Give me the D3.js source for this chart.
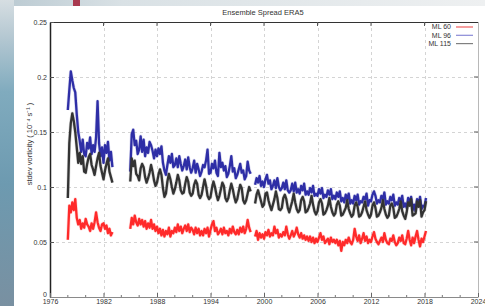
<!DOCTYPE html>
<html><head><meta charset="utf-8">
<script src="https://cdn.jsdelivr.net/npm/d3@7"></script>
<style>
body{margin:0;background:#fff}
svg{display:block}
text{font-family:"Liberation Sans",Arial,sans-serif}
</style>
</head><body>
<svg id="c" width="485" height="306"></svg>
<script>
// ---------------- data ----------------
const chartTitle = "Ensemble Spread ERA5";
const yAxisLabel = "stdev vorticity ( 10\u207B\u2074 s\u207B\u00B9 )";
const seriesNames = ["ML 60", "ML 96", "ML 115"];
const xTickValues = [1976, 1982, 1988, 1994, 2000, 2006, 2012, 2018, 2024];
const xTickLabels = ["1976", "1982", "1988", "1994", "2000", "2006", "2012", "2018", "2024"];
const yTickValues = [0, 0.05, 0.1, 0.15, 0.2, 0.25];
const yTickLabels = ["0", "0.05", "0.1", "0.15", "0.2", "0.25"];
const startYear = 1978;      // first sample
const stepYears = 1 / 6;     // two-monthly samples, null = no data

const ml60 = [
.052,.083,.077,.086,.079,.089,
.072,.066,.070,.062,.067,.063,
.071,.066,.064,.060,.067,.062,
.068,.077,.068,.063,.060,.066,
.067,.062,.065,.058,.062,.056,
.059,
null,null,null,null,null,null,null,null,null,null,null,
.062,.072,.066,.074,.068,.065,
.071,.066,.070,.064,.069,.062,
.067,.063,.070,.062,.066,.060,
.064,.058,.062,.056,.061,.055,
.060,.057,.063,.055,.060,.058,
.063,.059,.066,.060,.064,.058,
.062,.065,.060,.066,.059,.063,
.061,.057,.063,.058,.062,.056,
.060,.056,.062,.058,.063,.055,
.061,.066,.069,.060,.063,.057,
.059,.062,.057,.063,.058,.060,
.056,.062,.058,.064,.059,.057,
.061,.057,.063,.059,.064,.058,
.062,.070,.063,.059,
null,null,
.055,.060,.052,.058,.054,.057,
.053,.059,.056,.061,.055,.058,
.056,.064,.058,.061,.054,.057,
.055,.059,.056,.064,.057,.053,
.056,.060,.055,.058,.063,.057,
.054,.058,.053,.056,.052,.055,
.051,.055,.050,.054,.049,.053,
.050,.054,.058,.052,.055,.049,
.051,.053,.048,.054,.050,.052,
.049,.052,.047,.051,.042,.050,
.047,.052,.049,.054,.050,.048,
.052,.062,.055,.051,.056,.049,
.053,.058,.051,.055,.049,.052,
.050,.055,.059,.053,.050,.048,
.051,.054,.050,.058,.052,.049,
.048,.053,.051,.056,.050,.047,
.049,.054,.051,.056,.049,.048,
.053,.060,.052,.047,.054,.049,
.055,.060,.052,.046,.053,.050,
.055,.060
];

const ml96 = [
.170,.188,.205,.197,.190,.186,
.166,.150,.142,.132,.143,.130,
.128,.140,.135,.145,.130,.138,
.132,.145,.178,.140,.128,.136,
.122,.138,.131,.141,.124,.132,
.118,
null,null,null,null,null,null,null,null,null,null,null,
.114,.148,.152,.138,.142,.130,
.134,.146,.132,.143,.128,.136,
.131,.141,.138,.133,.126,.134,
.128,.135,.130,.137,.122,.115,
.111,.120,.128,.122,.130,.118,
.120,.126,.118,.128,.121,.115,
.119,.125,.116,.127,.118,.113,
.117,.124,.113,.121,.116,.110,
.114,.120,.118,.124,.134,.112,
.113,.121,.117,.124,.113,.110,
.131,.118,.122,.115,.119,.109,
.112,.119,.128,.114,.117,.108,
.111,.116,.121,.113,.115,.107,
.110,.123,.115,.112,
null,null,
.102,.108,.104,.110,.101,.105,
.100,.107,.111,.103,.106,.098,
.101,.106,.099,.108,.100,.097,
.099,.104,.098,.106,.097,.095,
.097,.103,.096,.104,.095,.098,
.094,.101,.097,.103,.093,.096,
.093,.099,.095,.101,.092,.094,
.092,.098,.094,.099,.090,.093,
.091,.097,.093,.098,.089,.092,
.089,.095,.091,.096,.087,.090,
.086,.093,.089,.094,.085,.088,
.085,.092,.088,.093,.084,.087,
.086,.091,.089,.094,.083,.088,
.087,.093,.096,.092,.085,.088,
.086,.092,.089,.095,.084,.087,
.085,.091,.088,.093,.083,.086,
.084,.090,.087,.092,.082,.085,
.081,.090,.086,.091,.079,.084,
.078,.089,.085,.091,.080,.083,
.082,.090
];

const ml115 = [
.090,.140,.158,.167,.160,.150,
.136,.122,.131,.121,.128,.114,
.113,.121,.127,.130,.120,.116,
.111,.119,.126,.131,.119,.113,
.107,.115,.121,.126,.114,.109,
.104,
null,null,null,null,null,null,null,null,null,null,null,
.105,.126,.119,.124,.112,.110,
.106,.117,.121,.118,.109,.104,
.108,.113,.120,.114,.106,.101,
.104,.111,.116,.111,.099,.091,
.094,.105,.112,.107,.100,.094,
.098,.104,.111,.106,.097,.094,
.095,.103,.109,.105,.095,.092,
.094,.102,.106,.103,.093,.090,
.093,.100,.107,.101,.092,.089,
.091,.099,.105,.100,.093,.088,
.092,.098,.104,.101,.090,.087,
.090,.097,.103,.098,.091,.086,
.089,.096,.102,.099,.088,.085,
.088,.094,.100,.096,
null,null,
.085,.093,.097,.092,.087,.082,
.084,.094,.095,.088,.083,.079,
.084,.089,.096,.090,.080,.079,
.081,.090,.093,.089,.081,.077,
.082,.087,.094,.086,.080,.077,
.079,.088,.091,.087,.077,.078,
.081,.085,.092,.084,.078,.075,
.078,.086,.089,.085,.075,.076,
.079,.083,.090,.082,.077,.074,
.076,.084,.087,.083,.074,.075,
.078,.081,.088,.080,.076,.073,
.075,.083,.086,.082,.073,.074,
.077,.082,.087,.079,.075,.072,
.075,.083,.086,.081,.073,.074,
.077,.081,.088,.080,.075,.072,
.074,.083,.085,.081,.072,.073,
.076,.080,.087,.078,.074,.071,
.077,.086,.083,.089,.074,.075,
.076,.087,.082,.088,.073,.077,
.079,.087
];

// ---------------- styles ----------------
const seriesColors = ["#ff2a2a", "#2e2ea6", "#333333"];
const legendColors = ["#f06060", "#8a8ad6", "#808080"];

// ---------------- drawing ----------------
const W = 485, H = 306;
const M = {left: 50, right: 478, top: 22, bottom: 297};
const svg = d3.select("#c");

// backdrop (photo-like margin around the chart panel)
const defs = svg.append("defs");
const lg = defs.append("linearGradient").attr("id", "lg").attr("x1", 0).attr("y1", 0).attr("x2", 0).attr("y2", 1);
[[0, "#d6dee2"], [0.12, "#b5c8d2"], [0.3, "#80abbe"], [0.6, "#6d9ab0"], [1, "#7990a1"]]
  .forEach(([o, c]) => lg.append("stop").attr("offset", o).attr("stop-color", c));
const tg = defs.append("linearGradient").attr("id", "tg").attr("x1", 0).attr("y1", 0).attr("x2", 1).attr("y2", 0);
[[0, "#b9c9d1"], [0.25, "#d9e1e5"], [1, "#eef0f1"]]
  .forEach(([o, c]) => tg.append("stop").attr("offset", o).attr("stop-color", c));
svg.append("rect").attr("width", W).attr("height", 6).attr("fill", "url(#tg)");
svg.append("rect").attr("width", 14).attr("height", H).attr("fill", "url(#lg)");
svg.append("rect").attr("x", 73).attr("width", 7).attr("height", 6).attr("fill", "#a8394f");
svg.append("rect").attr("x", 14).attr("y", 6).attr("width", W - 14).attr("height", H - 6).attr("fill", "#fff");

const x = d3.scaleLinear().domain([1976, 2024]).range([M.left, M.right]);
const y = d3.scaleLinear().domain([0, 0.25]).range([M.bottom, M.top]);

// grid
const grid = svg.append("g").attr("stroke", "#d4d4d4").attr("stroke-width", 1).attr("stroke-dasharray", "3,3");
grid.selectAll("line.v").data(xTickValues.slice(1, -1)).join("line")
  .attr("x1", d => Math.round(x(d)) + 0.5).attr("x2", d => Math.round(x(d)) + 0.5)
  .attr("y1", M.top).attr("y2", M.bottom);
grid.selectAll("line.h").data(yTickValues.slice(1, -1)).join("line")
  .attr("y1", d => Math.round(y(d)) + 0.5).attr("y2", d => Math.round(y(d)) + 0.5)
  .attr("x1", M.left).attr("x2", M.right);

// border
svg.append("line").attr("x1", M.left).attr("x2", M.right).attr("y1", M.top + 0.5).attr("y2", M.top + 0.5).attr("stroke", "#333");
svg.append("line").attr("x1", M.right + 0.5).attr("x2", M.right + 0.5).attr("y1", M.top).attr("y2", M.bottom).attr("stroke", "#b8b8b8");

// series lines
const line = d3.line().defined(d => d.v != null).x(d => x(d.t)).y(d => y(d.v));
const allSeries = [ml60, ml96, ml115].map((arr, k) => ({
  name: seriesNames[k], color: seriesColors[k],
  pts: arr.map((v, i) => ({t: startYear + i * stepYears, v}))
}));
const sg = svg.append("g").selectAll("g").data(allSeries).join("g");
sg.append("path")
  .attr("fill", "none").attr("stroke", d => d.color).attr("stroke-width", 3.6).attr("stroke-opacity", 0.18)
  .attr("stroke-linejoin", "round").attr("d", d => line(d.pts));
sg.append("path")
  .attr("fill", "none").attr("stroke", d => d.color).attr("stroke-width", 2.3)
  .attr("stroke-linejoin", "round").attr("d", d => line(d.pts));

// axes
const fontSize = 7;
const yAxis = svg.append("g").attr("transform", `translate(${M.left},0)`)
  .call(d3.axisLeft(y).tickValues(yTickValues).tickFormat((d, i) => yTickLabels[i]).tickSizeInner(-4).tickSizeOuter(0).tickPadding(3));
yAxis.select(".domain").attr("stroke", "#222").attr("stroke-width", 1.5);
yAxis.selectAll(".tick line").attr("stroke", "#555");
yAxis.selectAll("text").attr("font-size", fontSize).attr("fill", "#333").attr("font-family", "Liberation Sans, Arial, sans-serif");
yAxis.selectAll(".tick").filter(d => d === 0).select("text").attr("dy", "-0.05em");

const xAxis = svg.append("g").attr("transform", `translate(0,${M.bottom})`)
  .call(d3.axisBottom(x).tickValues(xTickValues).tickFormat((d, i) => xTickLabels[i]).tickSizeInner(-4).tickSizeOuter(0).tickPadding(2.5));
xAxis.select(".domain").attr("stroke", "#8a8a8a");
xAxis.selectAll(".tick line").attr("stroke", "#666");
xAxis.selectAll("text").attr("font-size", fontSize).attr("fill", "#333").attr("font-family", "Liberation Sans, Arial, sans-serif");

// minor x ticks every 2 years
const minorX = d3.range(1976, 2025, 2).filter(v => !xTickValues.includes(v));
svg.append("g").attr("stroke", "#777").selectAll("line").data(minorX).join("line")
  .attr("x1", d => x(d)).attr("x2", d => x(d)).attr("y1", M.bottom).attr("y2", M.bottom - 2);

// mirrored ticks on right and top
svg.append("g").attr("stroke", "#555").selectAll("line").data(yTickValues.slice(1, -1)).join("line")
  .attr("x1", M.right).attr("x2", M.right - 4).attr("y1", d => y(d)).attr("y2", d => y(d));
svg.append("g").attr("stroke", "#555").selectAll("line").data(xTickValues.slice(1, -1)).join("line")
  .attr("x1", d => x(d)).attr("x2", d => x(d)).attr("y1", M.top).attr("y2", M.top + 4);

// title
svg.append("text").attr("x", 263).attr("y", 14.5).attr("text-anchor", "middle")
  .attr("font-size", 7.5).attr("fill", "#333").text(chartTitle);

// y label
svg.append("text").attr("transform", "translate(32,144) rotate(-90)").attr("text-anchor", "middle")
  .attr("font-size", 7.5).attr("fill", "#333").text(yAxisLabel);

// legend
const leg = svg.append("g").selectAll("g").data(seriesNames).join("g")
  .attr("transform", (d, i) => `translate(0,${27 + i * 8.3})`);
leg.append("text").attr("x", 451).attr("y", 0).attr("dy", "0.35em").attr("text-anchor", "end")
  .attr("font-size", 7).attr("fill", "#333").text(d => d);
leg.append("line").attr("x1", 456).attr("x2", 473).attr("y1", 0).attr("y2", 0)
  .attr("stroke", (d, i) => legendColors[i]).attr("stroke-width", 1.2);
</script>
</body></html>
